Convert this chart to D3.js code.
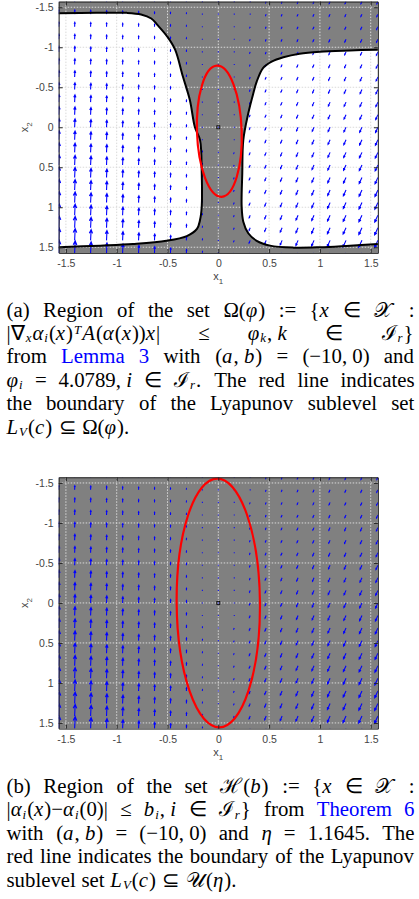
<!DOCTYPE html>
<html>
<head>
<meta charset="utf-8">
<script src="https://cdn.jsdelivr.net/npm/d3@7"></script>
<style>
  body { margin: 0; background: #fff; }
  svg { display: block; }
</style>
</head>
<body>
<svg width="419" height="899"></svg>
<script>
const HALF_PI = Math.PI / 2;

// ticks used on both axes
const tickValues = [-1.5, -1, -0.5, 0, 0.5, 1, 1.5];

// quiver grid (21 x 21 over [-pi/2, pi/2])
const gridX1 = [-1.571, -1.414, -1.257, -1.100, -0.942, -0.785, -0.628, -0.471, -0.314, -0.157, 0,
                0.157, 0.314, 0.471, 0.628, 0.785, 0.942, 1.100, 1.257, 1.414, 1.571];
const gridX2 = [-1.571, -1.414, -1.257, -1.100, -0.942, -0.785, -0.628, -0.471, -0.314, -0.157, 0,
                0.157, 0.314, 0.471, 0.628, 0.785, 0.942, 1.100, 1.257, 1.414, 1.571];

// arrow components per column (read at the x2 = 0 row), and how they grow down the rows
const colU = [0.004, 0.004, 0.004, 0.003, 0.003, 0.003, 0.002, 0.002, 0.001, 0.001, 0,
              -0.004, -0.008, -0.011, -0.014, -0.016, -0.018, -0.020, -0.022, -0.024, -0.025];
const colV = [-0.115, -0.11, -0.1, -0.092, -0.081, -0.07, -0.058, -0.045, -0.03, -0.012, 0.003,
              0.011, 0.025, 0.034, 0.041, 0.047, 0.052, 0.057, 0.061, 0.065, 0.068];
const rowGain = [0.42, 0.46, 0.5, 0.55, 0.6, 0.65, 0.71, 0.77, 0.83, 0.89, 0.95,
                 1.0, 1.05, 1.1, 1.14, 1.18, 1.22, 1.26, 1.3, 1.34, 1.37];

// panel (a): boundary of Omega(phi), left and right pieces, [x1, x2]
const leftBoundary = [
  [-1.571, -1.425], [-1.2, -1.43], [-0.9, -1.43], [-0.76, -1.41], [-0.66, -1.36], [-0.60, -1.28],
  [-0.50, -1.13], [-0.425, -0.97], [-0.35, -0.64], [-0.28, -0.34], [-0.23, 0.0], [-0.18, 0.16],
  [-0.163, 0.575], [-0.163, 0.99], [-0.18, 1.16], [-0.21, 1.27], [-0.31, 1.36], [-0.51, 1.42],
  [-0.84, 1.46], [-1.16, 1.48], [-1.571, 1.5]
];
const rightBoundary = [
  [1.571, -0.97], [1.296, -0.96], [1.0, -0.945], [0.80, -0.92], [0.64, -0.875], [0.525, -0.82],
  [0.44, -0.74], [0.378, -0.57], [0.345, -0.425], [0.295, -0.175], [0.246, 0.16], [0.236, 0.575],
  [0.23, 0.99], [0.246, 1.18], [0.295, 1.325], [0.378, 1.42], [0.51, 1.48], [0.74, 1.505],
  [1.0, 1.50], [1.296, 1.48], [1.571, 1.46]
];

// Lyapunov sublevel set boundaries: centre, semi-axes (data units), tilt (deg)
const ellipseA = { cx: 0.01, cy: 0.05, rx: 0.22, ry: 0.82, tilt: -2 };
const ellipseB = { cx: 0.0, cy: 0.0, rx: 0.41, ry: 1.555, tilt: -0.5 };

// captions: each line is a list of words, each word a list of "style:text" runs
// r roman, i italic, b subscript, p superscript, l link, c calligraphic
const captionA = [
  [["r:(a)"], ["r:Region"], ["r:of"], ["r:the"], ["r:set"], ["r:Ω(", "i:φ", "r:)"], ["r::="],
   ["r:{", "i:x"], ["r:∈"], ["c:𝒳"], ["r::"]],
  [["r:|∇", "b:x", "i:α", "b:i", "r:(", "i:x", "r:)", "p:T", "i:A", "r:(", "i:α", "r:(", "i:x", "r:))", "i:x", "r:|"],
   ["r:≤"], ["i:φ", "b:k", "r:, ", "i:k"], ["r:∈"], ["c:ℐ", "b:r", "r:}"]],
  [["r:from"], ["l:Lemma"], ["l:3"], ["r:with"], ["r:(", "i:a", "r:, ", "i:b", "r:)"], ["r:="],
   ["r:(−10, 0)"], ["r:and"]],
  [["i:φ", "b:i"], ["r:="], ["r:4.0789, ", "i:i"], ["r:∈"], ["c:ℐ", "b:r", "r:."], ["r:The"], ["r:red"],
   ["r:line"], ["r:indicates"]],
  [["r:the"], ["r:boundary"], ["r:of"], ["r:the"], ["r:Lyapunov"], ["r:sublevel"], ["r:set"]],
  [["i:L", "b:V", "r:(", "i:c", "r:)"], ["r:⊆"], ["r:Ω(", "i:φ", "r:)."]]
];
const captionB = [
  [["r:(b)"], ["r:Region"], ["r:of"], ["r:the"], ["r:set"], ["c:ℋ", "r:(", "i:b", "r:)"], ["r::="],
   ["r:{", "i:x"], ["r:∈"], ["c:𝒳"], ["r::"]],
  [["r:|", "i:α", "b:i", "r:(", "i:x", "r:)−", "i:α", "b:i", "r:(0)|"], ["r:≤"], ["i:b", "b:i", "r:, ", "i:i"],
   ["r:∈"], ["c:ℐ", "b:r", "r:}"], ["r:from"], ["l:Theorem"], ["l:6"]],
  [["r:with"], ["r:(", "i:a", "r:, ", "i:b", "r:)"], ["r:="], ["r:(−10, 0)"], ["r:and"], ["i:η"], ["r:="],
   ["r:1.1645."], ["r:The"]],
  [["r:red"], ["r:line"], ["r:indicates"], ["r:the"], ["r:boundary"], ["r:of"], ["r:the"], ["r:Lyapunov"]],
  [["r:sublevel"], ["r:set"], ["i:L", "b:V", "r:(", "i:c", "r:)"], ["r:⊆"], ["c:𝒰", "r:(", "i:η", "r:)."]]
];

const svg = d3.select("svg");
const PLOT_LEFT = 58.7, PLOT_RIGHT = 377.9, PLOT_H = 251.3;
const TICK_FONT = "Liberation Sans, Arial, Helvetica, sans-serif";

function arrowPath(x0, y0, x1, y1) {
  const dx = x1 - x0, dy = y1 - y0, L = Math.hypot(dx, dy);
  if (L < 1) return `M${x0 - 0.5},${y0}h1`;
  const ux = dx / L, uy = dy / L;
  const hl = Math.min(0.34 * L, 4), hw = hl * 0.45;
  const bx = x1 - ux * hl, by = y1 - uy * hl;
  return `M${x0},${y0}L${x1},${y1}` +
    `M${bx - uy * hw},${by + ux * hw}L${x1},${y1}L${bx + uy * hw},${by - ux * hw}`;
}

function drawPanel(id, top, withRegions, ell, clipId) {
  const x = d3.scaleLinear().domain([-HALF_PI, HALF_PI]).range([PLOT_LEFT, PLOT_RIGHT]);
  const y = d3.scaleLinear().domain([-HALF_PI, HALF_PI]).range([top, top + PLOT_H]);
  const g = svg.append("g").attr("id", id);

  g.append("clipPath").attr("id", clipId).append("rect")
    .attr("x", PLOT_LEFT).attr("y", top)
    .attr("width", PLOT_RIGHT - PLOT_LEFT).attr("height", PLOT_H);

  g.append("rect")
    .attr("x", PLOT_LEFT).attr("y", top)
    .attr("width", PLOT_RIGHT - PLOT_LEFT).attr("height", PLOT_H)
    .attr("fill", "#808080");

  const line = d3.line().x(d => x(d[0])).y(d => y(d[1])).curve(d3.curveCatmullRom.alpha(0.5));
  const plot = g.append("g").attr("clip-path", `url(#${clipId})`);

  if (withRegions) {
    [leftBoundary, rightBoundary].forEach(b => {
      plot.append("path").attr("d", line(b) + "Z").attr("fill", "#fff");
    });
  }

  // grid
  const grid = plot.append("g")
    .attr("stroke", "#d9d9d9").attr("stroke-width", 1).attr("stroke-dasharray", "1.5,1.5");
  grid.selectAll("line.v").data(tickValues).join("line").attr("class", "v")
    .attr("x1", d => x(d)).attr("x2", d => x(d)).attr("y1", top).attr("y2", top + PLOT_H);
  grid.selectAll("line.h").data(tickValues).join("line").attr("class", "h")
    .attr("y1", d => y(d)).attr("y2", d => y(d)).attr("x1", PLOT_LEFT).attr("x2", PLOT_RIGHT);

  // quiver
  const arrows = [];
  gridX2.forEach((v2, i) => gridX1.forEach((v1, j) => {
    arrows.push({ x1: v1, x2: v2, u: colU[j] * rowGain[i], v: colV[j] * rowGain[i] });
  }));
  plot.append("g").selectAll("path").data(arrows).join("path")
    .attr("d", d => arrowPath(x(d.x1), y(d.x2), x(d.x1 + d.u), y(d.x2 + d.v)))
    .attr("fill", "none").attr("stroke", "#0000ff").attr("stroke-width", 1.1);

  if (withRegions) {
    [leftBoundary, rightBoundary].forEach(b => {
      plot.append("path").attr("d", line(b))
        .attr("fill", "none").attr("stroke", "#000").attr("stroke-width", 2);
    });
  }

  g.append("ellipse")
    .attr("cx", x(ell.cx)).attr("cy", y(ell.cy))
    .attr("rx", x(ell.rx) - x(0)).attr("ry", y(ell.ry) - y(0))
    .attr("transform", `rotate(${ell.tilt},${x(ell.cx)},${y(ell.cy)})`)
    .attr("fill", "none").attr("stroke", "#ff0000").attr("stroke-width", 2.2);

  g.append("rect")
    .attr("x", x(0) - 1.5).attr("y", y(0) - 1.5).attr("width", 3).attr("height", 3)
    .attr("fill", "none").attr("stroke", "#000").attr("stroke-width", 0.8);

  // axes, ticks pointing inward on all four sides
  const axes = [
    [d3.axisBottom(x).tickFormat(d => String(d)), `translate(0,${top + PLOT_H})`],
    [d3.axisTop(x).tickFormat(""), `translate(0,${top})`],
    [d3.axisLeft(y).tickFormat(d => String(d)), `translate(${PLOT_LEFT},0)`],
    [d3.axisRight(y).tickFormat(""), `translate(${PLOT_RIGHT},0)`]
  ];
  axes.forEach(([ax, tr], k) => {
    const a = g.append("g").attr("transform", tr)
      .call(ax.tickValues(tickValues).tickSizeInner(-4).tickSizeOuter(0).tickPadding(k === 2 ? 5 : 7));
    a.select(".domain").attr("stroke", "#262626");
    a.selectAll(".tick line").attr("stroke", "#262626");
    a.selectAll("text").attr("fill", "#444").style("font-family", TICK_FONT).style("font-size", "10.5px");
  });

  // axis labels
  const xl = g.append("text").attr("x", x(0)).attr("y", top + PLOT_H + 27)
    .attr("text-anchor", "middle").attr("fill", "#444")
    .style("font-family", TICK_FONT).style("font-size", "11px");
  xl.append("tspan").text("x");
  xl.append("tspan").text("1").attr("font-size", "8px").attr("dy", 4);

  const yl = g.append("text")
    .attr("transform", `translate(28,${y(0)}) rotate(-90)`)
    .attr("text-anchor", "middle").attr("fill", "#444")
    .style("font-family", TICK_FONT).style("font-size", "11px");
  yl.append("tspan").text("x");
  yl.append("tspan").text("2").attr("font-size", "8px").attr("dy", 4);
}

function drawWord(g, runs, baseline) {
  const t = g.append("text").attr("x", 0).attr("y", baseline);
  let shift = 0, prev = "r";
  runs.forEach(run => {
    const k = run.indexOf(":");
    const style = run.slice(0, k), str = run.slice(k + 1);
    const ts = t.append("tspan").text(str);
    let want = 0;
    if (style === "i") ts.attr("font-style", "italic");
    if (style === "b") { ts.attr("font-style", "italic").attr("font-size", "0.62em"); want = 2.1; }
    if (style === "p") { ts.attr("font-style", "italic").attr("font-size", "0.62em"); want = -6; }
    if (style === "l") ts.attr("fill", "#0000ff");
    if (style === "c") ts.attr("font-family", "DejaVu Serif, serif");
    if (want !== shift) { ts.attr("dy", want - shift); shift = want; }
    // small italic correction so slanted glyphs do not run into the next run
    if ("ibpc".includes(prev) || style === "b" || style === "p") ts.attr("dx", 1);
    prev = style;
  });
  return t;
}

function drawCaption(lines, firstBaseline) {
  const left = 6.5, right = 414.5, lead = 23.45, space = 5.5;
  const g = svg.append("g")
    .style("font-family", "Liberation Serif, Times New Roman, serif")
    .style("font-size", "20.8px").attr("fill", "#000");
  lines.forEach((words, li) => {
    const base = firstBaseline + li * lead;
    const nodes = words.map(w => drawWord(g, w, base));
    const widths = nodes.map(n => n.node().getBBox().width);
    const total = d3.sum(widths);
    const last = li === lines.length - 1;
    const gap = last ? space : (right - left - total) / (words.length - 1);
    let cx = left;
    nodes.forEach((n, k) => { n.attr("x", cx); cx += widths[k] + gap; });
  });
}

drawPanel("panelA", 1.6, true, ellipseA, "clipA");
drawCaption(captionA, 316.5);
drawPanel("panelB", 477.3, false, ellipseB, "clipB");
drawCaption(captionB, 793);
</script>
</body>
</html>
